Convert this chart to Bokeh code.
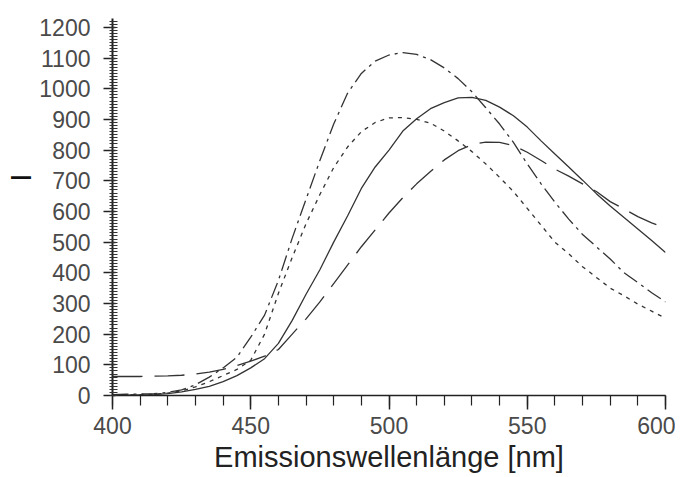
from bokeh.plotting import figure
from bokeh.models import Range1d, SingleIntervalTicker, Title
from bokeh.embed import file_html
from bokeh.resources import INLINE

# Emission wavelength (nm)
wavelength = [400, 405, 410, 415, 420, 425, 430, 435, 440, 445, 450, 455, 460, 465, 470,
              475, 480, 485, 490, 495, 500, 505, 510, 515, 520, 525, 530, 535, 540, 545,
              550, 555, 560, 565, 570, 575, 580, 585, 590, 595, 600]

# solid curve
intensity_solid = [0, 1, 2, 3, 6, 12, 20, 30, 45, 65, 90, 120, 170, 245, 330,
                   410, 500, 585, 675, 745, 800, 862, 902, 935, 955, 970, 972, 962, 940, 912,
                   875, 830, 787, 745, 702, 658, 618, 580, 543, 505, 466]

# long-dashed curve
intensity_longdash = [62, 62, 62, 63, 64, 66, 70, 76, 85, 98, 112, 128, 150, 200, 250,
                      305, 365, 425, 485, 540, 595, 645, 690, 730, 768, 798, 818, 826, 825, 815,
                      793, 766, 738, 715, 690, 665, 632, 608, 583, 563, 545]

# dash-dot curve
intensity_dashdot = [3, 4, 5, 6, 10, 18, 35, 60, 90, 125, 190, 262, 375, 513, 640,
                     766, 885, 985, 1050, 1090, 1110, 1118, 1112, 1095, 1068, 1033, 990, 938, 885, 825,
                     755, 690, 630, 575, 525, 485, 445, 400, 368, 335, 305]

# short-dashed curve
intensity_shortdash = [2, 2, 3, 4, 8, 15, 28, 45, 65, 85, 115, 200, 333, 450, 560,
                       655, 743, 810, 860, 890, 905, 906, 900, 888, 862, 830, 795, 755, 711, 665,
                       610, 555, 500, 462, 420, 385, 350, 325, 298, 275, 252]

x_title = "Emissionswellenlänge [nm]"
y_title = "I"

tick_font = "Liberation Sans"

p = figure(frame_width=553, frame_height=377,
           x_range=Range1d(400, 600), y_range=Range1d(0, 1229),
           output_backend="svg", toolbar_location=None,
           min_border_left=112, min_border_right=10, min_border_top=18, min_border_bottom=10)
p.outline_line_color = None
p.xgrid.grid_line_color = None
p.ygrid.grid_line_color = None
p.background_fill_color = "white"
p.border_fill_color = "white"

line_col = "#333333"
p.line(wavelength, intensity_dashdot, line_color=line_col, line_width=1.3, line_dash="16 5 3 5")
p.line(wavelength, intensity_shortdash, line_color=line_col, line_width=1.3, line_dash="4 5")
p.line(wavelength, intensity_longdash, line_color=line_col, line_width=1.3, line_dash="30 12")
p.line(wavelength, intensity_solid, line_color=line_col, line_width=1.3)

# x axis
xa = p.xaxis[0]
xa.ticker = SingleIntervalTicker(interval=50, num_minor_ticks=5)
xa.axis_line_color = "#222222"
xa.axis_line_width = 1.5
xa.major_tick_line_color = "#222222"
xa.minor_tick_line_color = "#222222"
xa.major_tick_out = 14
xa.major_tick_in = 0
xa.minor_tick_out = 10
xa.minor_tick_in = 0
xa.major_tick_line_width = 1.5
xa.minor_tick_line_width = 1.2
xa.major_label_standoff = 7
xa.major_label_text_font = tick_font
xa.major_label_text_font_size = "23px"
xa.major_label_text_color = "#4a4a4a"
xa.axis_label = x_title
xa.axis_label_text_font = "Liberation Sans"
xa.axis_label_text_font_size = "29px"
xa.axis_label_text_font_style = "normal"
xa.axis_label_text_color = "#222222"
xa.axis_label_standoff = 4

# y axis
ya = p.yaxis[0]
ya.ticker = SingleIntervalTicker(interval=100, num_minor_ticks=10)
ya.axis_line_color = "#222222"
ya.axis_line_width = 2
ya.major_tick_line_color = "#222222"
ya.minor_tick_line_color = "#333333"
ya.major_tick_out = 9
ya.major_tick_in = 3
ya.minor_tick_out = 3
ya.minor_tick_in = 5
ya.major_tick_line_width = 1.5
ya.minor_tick_line_width = 1
ya.major_label_standoff = 13
ya.major_label_text_font = tick_font
ya.major_label_text_font_size = "23px"
ya.major_label_text_color = "#4a4a4a"

# y-axis title, rotated, left of the axis
p.add_layout(Title(text=y_title, align="right", offset=155, standoff=0,
                   text_font="Liberation Sans", text_font_size="30px",
                   text_font_style="normal", text_color="#111111"), "left")

open("out.html", "w").write(file_html(p, INLINE))
